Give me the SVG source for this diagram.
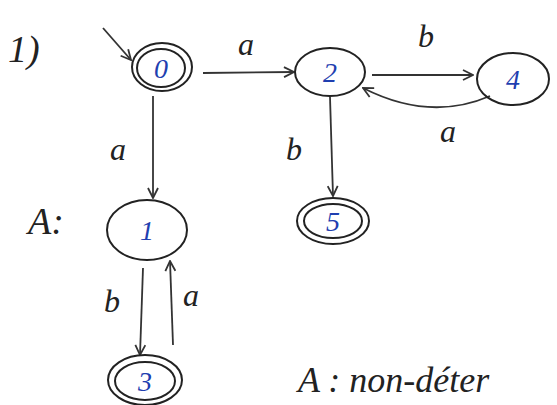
<svg xmlns="http://www.w3.org/2000/svg" width="557" height="405" viewBox="0 0 557 405">
<style>
.st{fill:none;stroke:#222;stroke-width:2}
.lb{font-family:"Liberation Serif",serif;font-style:italic;font-size:32px;fill:#222}
.num{font-family:"Liberation Serif",serif;font-style:italic;font-size:28px;fill:#1f3fb0;text-anchor:middle}
.ed{fill:none;stroke:#333;stroke-width:1.8;marker-end:url(#ah)}
</style>
<defs>
<marker id="ah" viewBox="0 0 12 12" refX="11" refY="6" markerWidth="12" markerHeight="12" markerUnits="userSpaceOnUse" orient="auto">
<path d="M1,1 L11,6 L1,11" fill="none" stroke="#333" stroke-width="1.8"/>
</marker>
</defs>
<rect width="557" height="405" fill="#fff"/>
<text class="lb" x="8" y="62" style="font-size:38px">1)</text>
<text class="lb" x="28" y="234" style="font-size:38px">A:</text>
<text class="lb" x="298" y="392" style="font-size:36px">A : non-déter</text>
<g id="edges">
<path class="ed" d="M103,28 L131,60"/>
<path class="ed" d="M203,73 L294,72"/>
<path class="ed" d="M153,96 L153,198"/>
<path class="ed" d="M372,75 L473,75"/>
<path class="ed" d="M490,96 Q430,122 363,88"/>
<path class="ed" d="M330,97 L333,196"/>
<path class="ed" d="M143,268 L140,355"/>
<path class="ed" d="M173,345 L170,261"/>
<text class="lb" x="238" y="55">a</text>
<text class="lb" x="418" y="47">b</text>
<text class="lb" x="440" y="142">a</text>
<text class="lb" x="286" y="160">b</text>
<text class="lb" x="110" y="160">a</text>
<text class="lb" x="104" y="312">b</text>
<text class="lb" x="183" y="306">a</text>
</g>
<g id="n0"><ellipse class="st" cx="162" cy="67" rx="30" ry="24"/><ellipse class="st" cx="161" cy="68" rx="24" ry="19"/><text class="num" x="161" y="78">0</text></g>
<g id="n2"><ellipse class="st" cx="330" cy="72" rx="35" ry="24"/><text class="num" x="330" y="82">2</text></g>
<g id="n4"><ellipse class="st" cx="513" cy="79" rx="36" ry="26"/><text class="num" x="513" y="89">4</text></g>
<g id="n5"><ellipse class="st" cx="333" cy="221" rx="36" ry="23"/><ellipse class="st" cx="333" cy="221" rx="29" ry="17"/><text class="num" x="333" y="231">5</text></g>
<g id="n1"><ellipse class="st" cx="147" cy="230" rx="40" ry="30"/><text class="num" x="147" y="240">1</text></g>
<g id="n3"><ellipse class="st" cx="145" cy="380" rx="37" ry="25"/><ellipse class="st" cx="145" cy="381" rx="30" ry="19"/><text class="num" x="145" y="391">3</text></g>
</svg>
